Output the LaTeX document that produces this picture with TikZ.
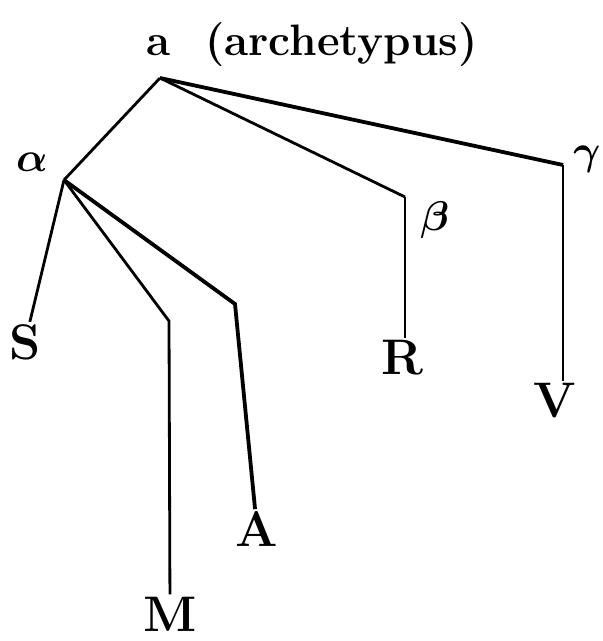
\documentclass[tikz,border=0pt]{standalone}
\usepackage{fontspec}
\usepackage{amsmath}
\usetikzlibrary{positioning}

\begin{document}
\begin{tikzpicture}[
    x=0.5pt, y=-0.5pt,
    title/.style={inner sep=0pt, font=\fontsize{22}{26}\selectfont\bfseries},
    siglum/.style={inner sep=1pt, font=\fontsize{25}{30}\selectfont\bfseries},
    hyp/.style={inner sep=0pt, font=\fontsize{22}{26}\selectfont},
    branch/.style={line width=1.4pt},
    heavy/.style={line width=1.9pt}
]
\useasboundingbox (0,0) rectangle (602,641);

% archetype
\node[title, anchor=base] (arch) at (158.5,56) {a};
\node[title, base right=17pt of arch] (archname) {(archetypus)};

% branching points
\coordinate (apex) at (160,78);
\coordinate (alpha) at (64,180);
\coordinate (beta) at (405,197);
\coordinate (gamma) at (563,165);
\coordinate (mbend) at (169,321);
\coordinate (abend) at (235,304);

\node[hyp, above left=4pt and 8pt of alpha] (alphalbl) {$\boldsymbol{\alpha}$};
\node[hyp, below right=2pt and 7.5pt of beta] (betalbl) {$\boldsymbol{\beta}$};
\node[hyp, right=5pt of gamma, yshift=3pt] (gammalbl) {$\boldsymbol{\gamma}$};

% manuscripts
\node[siglum] (S) at (25,342) {S};
\node[siglum] (M) at (170,614) {M};
\node[siglum] (A) at (257,529) {A};
\node[siglum] (R) at (402,358) {R};
\node[siglum] (V) at (555,401) {V};

\draw[branch] (apex) -- (alpha);
\draw[branch] (apex) -- (beta);
\draw[heavy] (apex) -- (gamma);

\draw[branch] (alpha) -- (S);
\draw[branch] (alpha) -- (mbend) -- (M);
\draw[heavy] (alpha) -- (abend) -- (A);
\draw[branch] (beta) -- (beta |- R.north);
\draw[branch] (gamma) -- (gamma |- V.north);

\end{tikzpicture}
\end{document}
